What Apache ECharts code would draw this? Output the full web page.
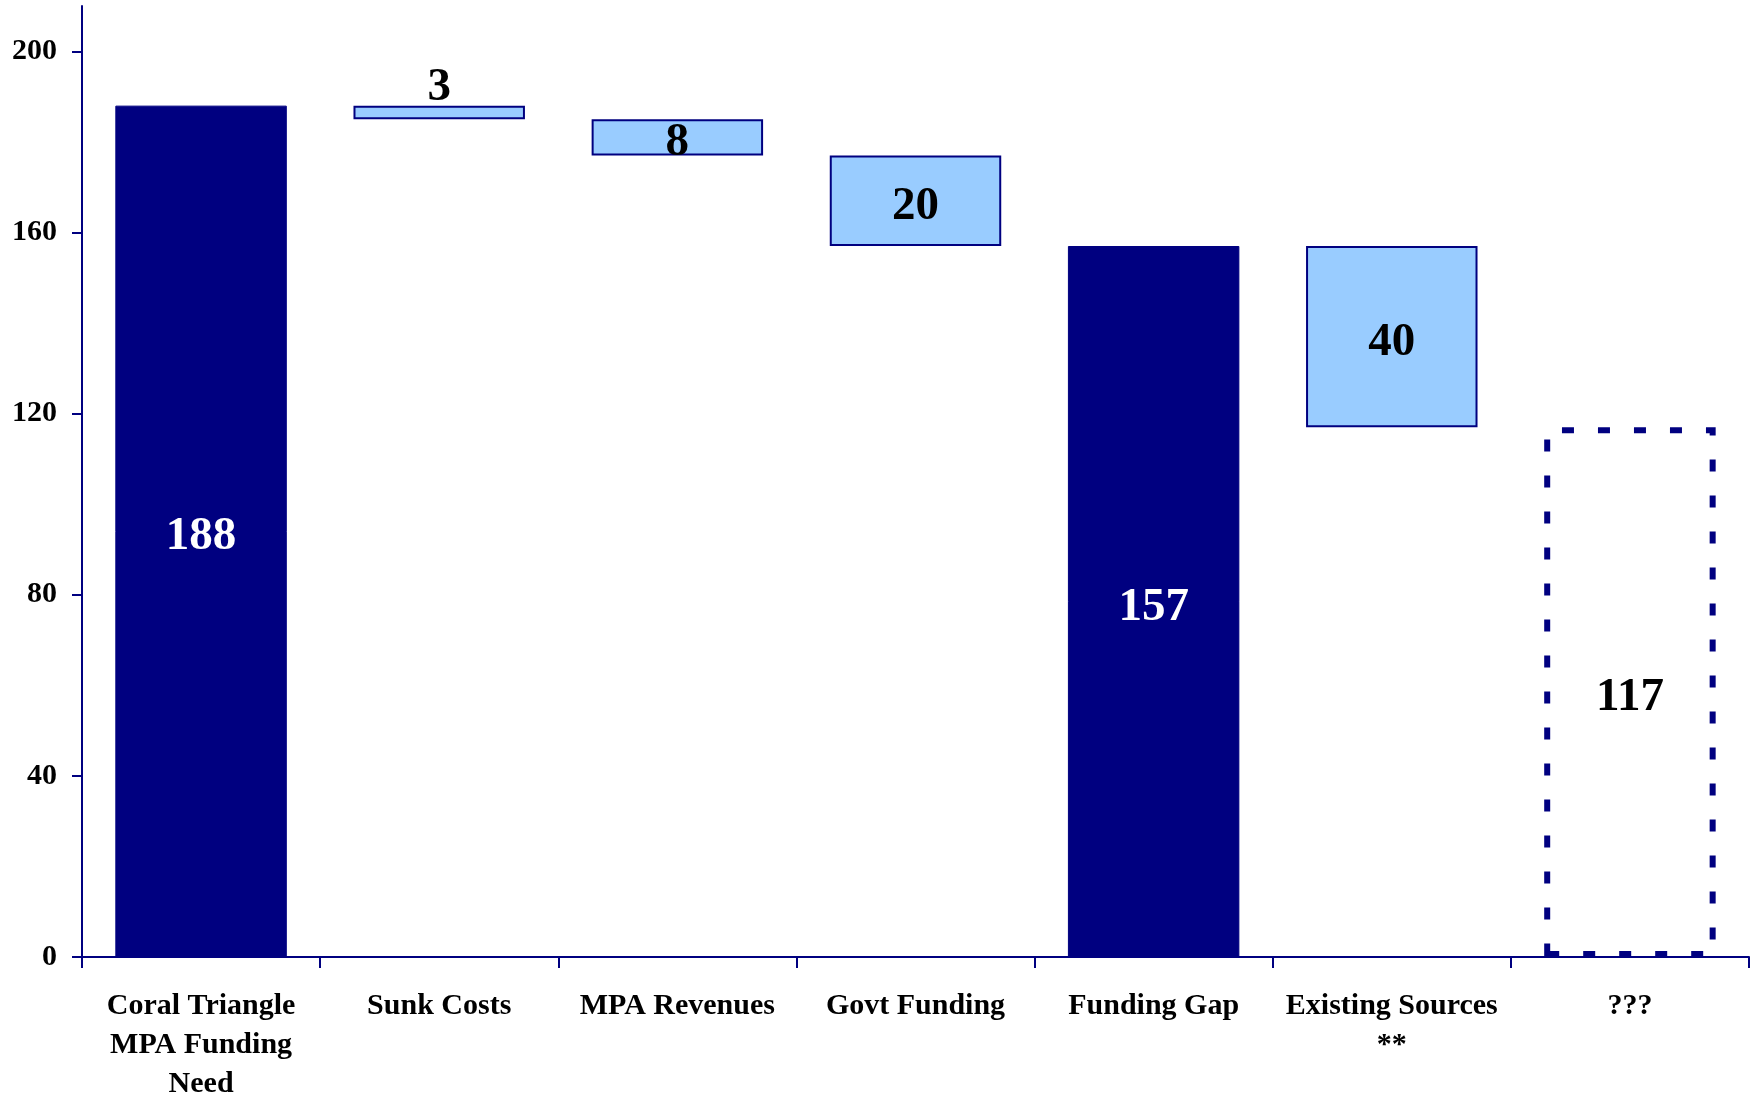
<!DOCTYPE html>
<html>
<head>
<meta charset="utf-8">
<script src="https://cdn.jsdelivr.net/npm/echarts@6/dist/echarts.min.js"></script>
<style>
html,body{margin:0;padding:0;background:#fff;}
#chart{width:1752px;height:1095px;}
</style>
</head>
<body>
<div id="chart"></div>
<script>
// ---- data ----
const categories = ['Coral Triangle\nMPA Funding\nNeed', 'Sunk Costs', 'MPA Revenues', 'Govt Funding', 'Funding Gap', 'Existing Sources\n**', '???'];
const values = [188, 3, 8, 20, 157, 40, 117];
const bases = [0, 185, 177, 157, 0, 117, 0];
const kinds = ['total', 'step', 'step', 'step', 'total', 'step', 'gap'];
const yTicks = [0, 40, 80, 120, 160, 200];

const NAVY = '#000080';
const LIGHT = '#99CCFF';
const FONT = '"Liberation Serif", "Times New Roman", serif';

const visibleData = values.map((v, i) => {
  const k = kinds[i];
  let itemStyle, label;
  if (k === 'total') {
    itemStyle = { color: NAVY, borderColor: NAVY, borderWidth: 1 };
    label = { color: '#fff', position: 'inside' };
  } else if (k === 'step') {
    itemStyle = { color: LIGHT, borderColor: NAVY, borderWidth: 2 };
    label = { color: '#000', position: v < 5 ? 'top' : 'inside', distance: 0 };
  } else {
    itemStyle = { color: 'rgba(255,255,255,0)', borderColor: NAVY, borderWidth: 6, borderType: [12, 24] };
    label = { color: '#000', position: 'inside' };
  }
  return { value: v, itemStyle, label };
});

const chart = echarts.init(document.getElementById('chart'));
chart.setOption({
  animation: false,
  backgroundColor: '#fff',
  grid: { left: 82, right: 3, top: 6, bottom: 138, containLabel: false, outerBoundsMode: 'none' },
  xAxis: {
    type: 'category',
    data: categories,
    axisLine: { lineStyle: { color: NAVY, width: 2 } },
    axisTick: { show: true, length: 11, lineStyle: { color: NAVY, width: 2 } },
    axisLabel: {
      interval: 0,
      margin: 30,
      color: '#000',
      fontFamily: FONT,
      fontWeight: 'bold',
      fontSize: 30,
      lineHeight: 39
    }
  },
  yAxis: {
    type: 'value',
    min: 0,
    max: 210,
    interval: 40,
    splitLine: { show: false },
    axisLine: { show: true, lineStyle: { color: NAVY, width: 2 } },
    axisTick: { show: true, length: 10, customValues: yTicks, lineStyle: { color: NAVY, width: 2 } },
    axisLabel: {
      customValues: yTicks,
      margin: 25,
      color: '#000',
      fontFamily: FONT,
      fontWeight: 'bold',
      fontSize: 30
    }
  },
  series: [
    {
      name: 'base',
      type: 'bar',
      stack: 'w',
      barWidth: '72%',
      silent: true,
      itemStyle: { color: 'rgba(0,0,0,0)' },
      data: bases
    },
    {
      name: 'value',
      type: 'bar',
      stack: 'w',
      barWidth: '72%',
      label: {
        show: true,
        fontFamily: FONT,
        fontWeight: 'bold',
        fontSize: 47,
        offset: [0, 6]
      },
      data: visibleData
    }
  ]
});
</script>
</body>
</html>
